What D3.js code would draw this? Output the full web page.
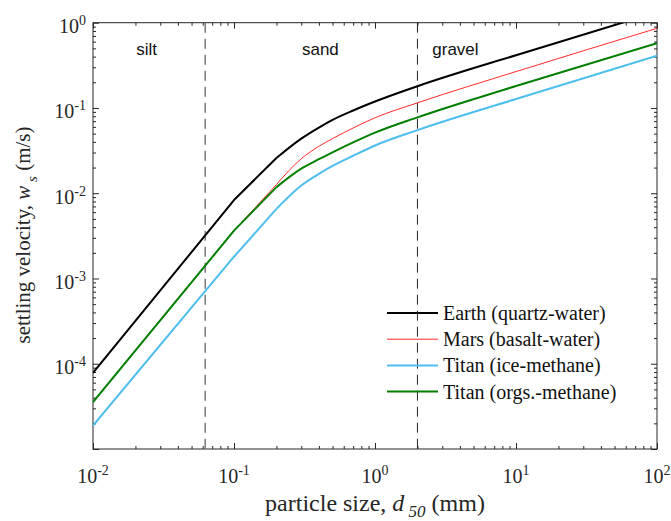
<!DOCTYPE html>
<html>
<head>
<meta charset="utf-8">
<script src="https://cdn.jsdelivr.net/npm/d3@7"></script>
<style>
  body { margin: 0; background: #fff; }
  svg { display: block; }
  .tick line { stroke: #262626; }
  .domain { display: none; }
</style>
</head>
<body>
<div id="chart-wrap"></div>
<script>
// particle size (mm) where the curves were read
const diam = [0.01, 0.1, 0.2, 0.3, 0.4, 0.5, 0.7, 1, 2, 10, 100];

// settling velocity (m/s)
const earth = [7.8e-5, 8.32e-3, 0.0259, 0.0437, 0.0589, 0.0724, 0.0933, 0.1189, 0.1799, 0.416, 1.33];
const mars = [3.55e-5, 3.64e-3, 0.01265, 0.0254, 0.0355, 0.0437, 0.0582, 0.0767, 0.1148, 0.267, 0.859];
const titanIce = [1.88e-5, 1.8e-3, 6.55e-3, 0.01233, 0.0169, 0.0209, 0.0275, 0.0363, 0.055, 0.1274, 0.409];
const titanOrgs = [3.54e-5, 3.64e-3, 0.01178, 0.0194, 0.0251, 0.0302, 0.0394, 0.0513, 0.0776, 0.1807, 0.573];

const seriesNames = ["Earth (quartz-water)", "Mars (basalt-water)", "Titan (ice-methane)", "Titan (orgs.-methane)"];
const seriesColors = ["#000000", "#ff2a2a", "#4dbeee", "#007f00"];
const seriesWidths = [2, 1, 2, 2];

// class boundaries (mm) and the region names
const boundaries = [0.0625, 2];
const regionNames = ["silt", "sand", "gravel"];
const regionAt = [0.024, 0.41, 3.72];

const xExponents = [-2, -1, 0, 1, 2];
const yExponents = [-4, -3, -2, -1, 0];

const width = 671;
const height = 521;
const margin = {top: 22.7, bottom: 72, left: 93, right: 14};
const w = width - margin.left - margin.right;
const h = height - margin.top - margin.bottom;

const svg = d3.select("#chart-wrap")
  .append("svg")
  .attr("width", width)
  .attr("height", height);

const g = svg.append("g")
  .attr("transform", "translate(" + margin.left + "," + margin.top + ")");

const x = d3.scaleLog().domain([1e-2, 1e2]).range([0, w]);
const y = d3.scaleLog().domain([1e-5, 1]).range([h, 0]);

const isMajor = v => Math.abs(Math.log10(v) - Math.round(Math.log10(v))) < 1e-9;
const xMinor = x.ticks().filter(v => !isMajor(v));
const yMinor = y.ticks().filter(v => !isMajor(v));
const xMajor = xExponents.map(e => Math.pow(10, e));
const yMajor = [-5].concat(yExponents).map(e => Math.pow(10, e));

// ticks on all four sides, pointing in
function addTicks(axisFn, scale, values, size, transform) {
  g.append("g")
    .attr("transform", transform)
    .call(axisFn(scale).tickValues(values).tickSize(size).tickFormat(""));
}
addTicks(d3.axisBottom, x, xMinor, -3, "translate(0," + h + ")");
addTicks(d3.axisBottom, x, xMajor, -6, "translate(0," + h + ")");
addTicks(d3.axisTop, x, xMinor, -3, "translate(0,0)");
addTicks(d3.axisTop, x, xMajor, -6, "translate(0,0)");
addTicks(d3.axisLeft, y, yMinor, -3, "translate(0,0)");
addTicks(d3.axisLeft, y, yMajor, -6, "translate(0,0)");
addTicks(d3.axisRight, y, yMinor, -3, "translate(" + w + ",0)");
addTicks(d3.axisRight, y, yMajor, -6, "translate(" + w + ",0)");

g.append("rect")
  .attr("width", w).attr("height", h)
  .attr("fill", "none").attr("stroke", "#262626").attr("stroke-width", 1);

// tick labels 10^n
const serif = "'Liberation Serif', 'Times New Roman', serif";
const xl = g.selectAll(".xlab").data(xExponents).enter().append("text")
  .attr("x", d => x(Math.pow(10, d)))
  .attr("y", h + 34)
  .attr("text-anchor", "middle")
  .attr("font-family", serif).attr("font-size", 20).attr("fill", "#262626");
xl.append("tspan").text("10");
xl.append("tspan").attr("dy", -8).attr("font-size", 14).text(d => d);

const yl = g.selectAll(".ylab").data(yExponents).enter().append("text")
  .attr("x", -7)
  .attr("y", d => y(Math.pow(10, d)) + 10.5)
  .attr("text-anchor", "end")
  .attr("font-family", serif).attr("font-size", 20).attr("fill", "#262626");
yl.append("tspan").text("10");
yl.append("tspan").attr("dy", -8).attr("font-size", 14).text(d => d);

// axis titles
const xt = svg.append("text")
  .attr("x", margin.left + w / 2).attr("y", 511)
  .attr("text-anchor", "middle")
  .attr("font-family", serif).attr("font-size", 24).attr("fill", "#262626");
xt.append("tspan").text("particle size,  ");
xt.append("tspan").attr("font-style", "italic").text("d");
xt.append("tspan").attr("dy", 6).attr("font-size", 17).attr("font-style", "italic").text(" 50");
xt.append("tspan").attr("dy", -6).text(" (mm)");

const yt = svg.append("text")
  .attr("transform", "translate(30,235) rotate(-90)")
  .attr("text-anchor", "middle")
  .attr("font-family", serif).attr("font-size", 21).attr("fill", "#262626");
yt.append("tspan").text("settling velocity,  ");
yt.append("tspan").attr("font-style", "italic").text("w");
yt.append("tspan").attr("dy", 7).attr("font-size", 15).attr("font-style", "italic").text(" s");
yt.append("tspan").attr("dy", -7).text(" (m/s)");

// class boundaries
g.selectAll(".bound").data(boundaries).enter().append("line")
  .attr("x1", d => x(d)).attr("x2", d => x(d))
  .attr("y1", 0).attr("y2", h)
  .attr("stroke", (d, i) => i === 0 ? "#7a7a7a" : "#222")
  .attr("stroke-width", (d, i) => i === 0 ? 1.5 : 1)
  .attr("stroke-dasharray", "10,6");

g.selectAll(".region").data(regionNames).enter().append("text")
  .attr("x", (d, i) => x(regionAt[i]))
  .attr("y", y(0.417))
  .attr("text-anchor", "middle")
  .attr("font-family", "'Liberation Sans', Arial, sans-serif")
  .attr("font-size", 17).attr("fill", "#111")
  .text(d => d);

// curves: straight Stokes part up to 0.2 mm, smooth after
g.append("clipPath").attr("id", "plot-clip")
  .append("rect").attr("width", w).attr("height", h);

const series = [earth, mars, titanIce, titanOrgs];
const pts = vals => vals.map((v, i) => [diam[i], v]);
const lineLin = d3.line().x(d => x(d[0])).y(d => y(d[1]));
const lineSmooth = d3.line().x(d => x(d[0])).y(d => y(d[1])).curve(d3.curveMonotoneX);

const curves = g.append("g").attr("clip-path", "url(#plot-clip)");
series.forEach((vals, i) => {
  const p = pts(vals);
  const s = curves.append("g")
    .attr("fill", "none")
    .attr("stroke", seriesColors[i])
    .attr("stroke-width", seriesWidths[i])
    .attr("stroke-linejoin", "round");
  s.append("path").attr("d", lineLin(p.slice(0, 3)));
  s.append("path").attr("d", lineSmooth(p.slice(2)));
});

// legend
const legend = svg.append("g").attr("transform", "translate(387,313)");
const rows = legend.selectAll("g").data(seriesNames).enter().append("g")
  .attr("transform", (d, i) => "translate(0," + (i * 26.2) + ")");
rows.append("line")
  .attr("x1", 0).attr("x2", 51).attr("y1", 0).attr("y2", 0)
  .attr("stroke", (d, i) => seriesColors[i])
  .attr("stroke-width", (d, i) => seriesWidths[i]);
rows.append("text")
  .attr("x", 56).attr("y", 7)
  .attr("font-family", serif).attr("font-size", 20).attr("fill", "#111")
  .text(d => d);
</script>
</body>
</html>
